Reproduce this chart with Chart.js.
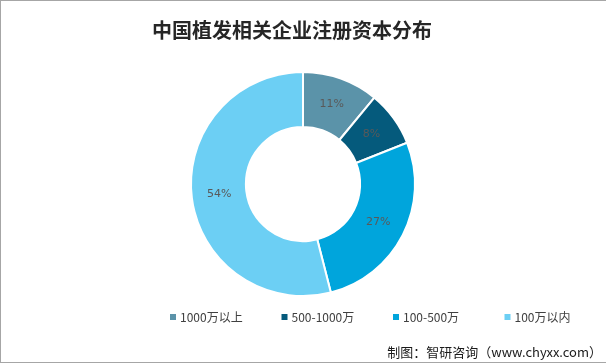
<!DOCTYPE html>
<html>
<head>
<meta charset="utf-8">
<script src="https://cdn.jsdelivr.net/npm/chart.js@4.4.1/dist/chart.umd.min.js"></script>
<style>
    html, body { margin: 0; padding: 0; background: #fff; }
    #wrap {
        position: relative; width: 605px; height: 361px;
        border-top: 1px solid #a6a6a6; border-left: 1px solid #a6a6a6; border-bottom: 1px solid #a6a6a6;
    }
    canvas { display: block; }
</style>
</head>
<body>
<div id="wrap"><canvas id="pieChart" width="605" height="361"></canvas></div>
<script>
// 数据
var categories = ['1000万以上', '500-1000万', '100-500万', '100万以内'];
var shares = [11, 8, 27, 54];
var colors = ['#5b93a9', '#055a7c', '#00a5dc', '#6ccff4'];
var chartTitle = '中国植发相关企业注册资本分布';
var sourceText = '制图：智研咨询（www.chyxx.com）';

// 自定义插件：标题、数据标签、图例、来源
var textPlugin = {
    id: 'textPlugin',
    afterDraw: function (chart) {
        var ctx = chart.ctx;
        ctx.save();

        // 标题
        ctx.fillStyle = '#262626';
        ctx.font = 'bold 20px "Noto Sans CJK SC"';
        ctx.textAlign = 'center';
        ctx.textBaseline = 'middle';
        ctx.fillText(chartTitle, 291, 29);

        // 数据标签
        var meta = chart.getDatasetMeta(0);
        ctx.font = '11px "DejaVu Sans"';
        ctx.fillStyle = '#595959';
        meta.data.forEach(function (arc, i) {
            var p = arc.getProps(['x', 'y', 'startAngle', 'endAngle', 'innerRadius', 'outerRadius'], true);
            var a = (p.startAngle + p.endAngle) / 2;
            var r = (p.innerRadius + p.outerRadius) / 2;
            ctx.fillText(shares[i] + '%', p.x + Math.cos(a) * r, p.y + Math.sin(a) * r);
        });

        // 图例
        ctx.textAlign = 'left';
        ctx.font = '12px "Noto Sans CJK SC"';
        categories.forEach(function (name, i) {
            var x = 169 + i * 111.5;
            ctx.fillStyle = colors[i];
            ctx.fillRect(x, 313, 6, 6);
            ctx.fillStyle = '#404040';
            ctx.fillText(name, x + 10, 316);
        });

        // 来源
        ctx.textAlign = 'right';
        ctx.font = '13px "Noto Sans CJK SC"';
        ctx.fillStyle = '#1a1a1a';
        ctx.fillText(sourceText, 601, 351);

        ctx.restore();
    }
};

var ctx = document.getElementById('pieChart').getContext('2d');
var pieChart = new Chart(ctx, {
    type: 'doughnut',
    data: {
        labels: categories,
        datasets: [{
            data: shares,
            backgroundColor: colors,
            borderColor: '#ffffff',
            borderWidth: 2,
            hoverOffset: 0
        }]
    },
    options: {
        responsive: false,
        animation: false,
        cutout: '51%',
        layout: {
            padding: { top: 70, bottom: 65, left: 189, right: 190 }
        },
        plugins: {
            legend: { display: false },
            title: { display: false },
            tooltip: { enabled: false }
        }
    },
    plugins: [textPlugin]
});
</script>
</body>
</html>
